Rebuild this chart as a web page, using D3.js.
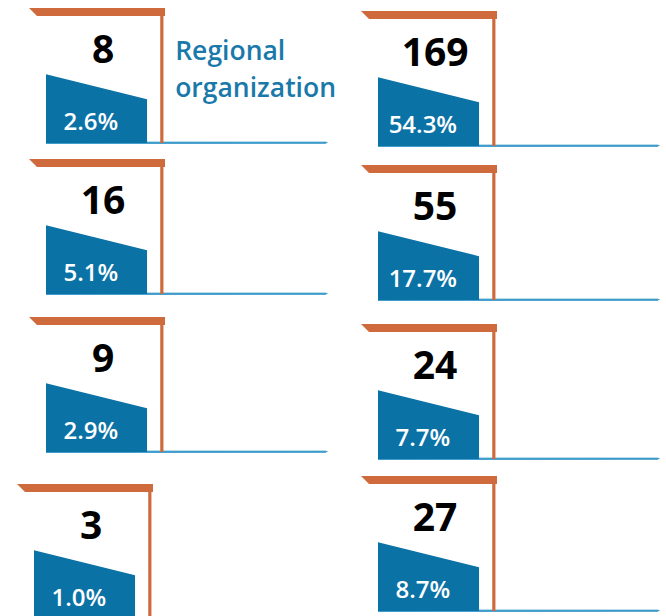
<!DOCTYPE html>
<html><head><meta charset="utf-8">
<script src="https://cdn.jsdelivr.net/npm/d3@7"></script>
<style>html,body{margin:0;padding:0;background:#fff;}svg{display:block;}</style>
</head><body>
<div id="chart"></div>
<script>
// ---- data ----
const categories = ["Regional organization", "", "", "", "", "", "", ""];
const counts = [8, 16, 9, 3, 169, 55, 24, 27];
const shares = [2.6, 5.1, 2.9, 1.0, 54.3, 17.7, 7.7, 8.7];
// ---- layout (panel origins: column, row) ----
const panelCol = [0, 0, 0, 0, 1, 1, 1, 1];
const panelRow = [0, 1, 2, 3, 0, 1, 2, 3];
const colX = [29, 361];
const rowY = [[8, 159, 317, 484], [11, 165, 324, 476]];
const panelDx = [0, 0, 0, -12, 0, 0, 0, 0];

const W = 666, H = 616;
const orange = "#CF6A3D", blue = "#0B72A6", lineBlue = "#3E9CCB", textBlue = "#1A79AA";

const svg = d3.select("#chart").append("svg").attr("width", W).attr("height", H);

const xCol = d3.scaleOrdinal().domain([0, 1]).range(colX);
// local panel scales: unit box -> pixel offsets
const px = d3.scaleLinear().domain([0, 1]).range([0, 136]);
const py = d3.scaleLinear().domain([0, 1]).range([0, 135]);

const data = counts.map((c, i) => ({
  cat: categories[i], count: c, share: shares[i],
  x0: xCol(panelCol[i]) + panelDx[i],
  y0: rowY[panelCol[i]][panelRow[i]]
}));

const g = svg.selectAll("g.panel").data(data).join("g")
  .attr("class", "panel")
  .attr("transform", d => `translate(${d.x0},${d.y0})`);

// blue base line
g.append("path")
  .attr("d", `M${px(0.125)},${py(0.993)} L${px(2.19)},${py(0.993)} L${px(2.2)},${py(1.0)} L${px(0.125)},${py(1.007)} Z`)
  .attr("fill", lineBlue);
g.append("rect")
  .attr("x", px(0.125)).attr("y", py(0.99))
  .attr("width", px(2.06)).attr("height", 2.2)
  .attr("fill", lineBlue);

// trapezoid
g.append("path")
  .attr("d", `M${px(0.125)},${py(0.49)} L${px(0.868)},${py(0.675)} L${px(0.868)},${py(1.0)} L${px(0.125)},${py(1.0)} Z`)
  .attr("fill", blue);

// orange top bar (slanted left)
g.append("path")
  .attr("d", `M0,0 L${px(1)},0 L${px(1)},8 L8,8 Z`)
  .attr("fill", orange);
// orange vertical line
g.append("rect")
  .attr("x", px(0.965)).attr("y", 0)
  .attr("width", 3.2).attr("height", py(1.0))
  .attr("fill", orange);

// count number
g.append("text")
  .attr("x", px(0.545)).attr("y", py(0.405))
  .attr("text-anchor", "middle")
  .attr("font-family", "'Open Sans', sans-serif")
  .attr("font-weight", 700).attr("font-size", 39)
  .attr("fill", "#000")
  .text(d => d.count);

// share label
g.append("text")
  .attr("x", px(0.455)).attr("y", py(0.905))
  .attr("text-anchor", "middle")
  .attr("font-family", "'Open Sans', sans-serif")
  .attr("font-weight", 600).attr("font-size", 24)
  .attr("fill", "#fff")
  .text(d => d.share.toFixed(1) + "%");

// category label (only those with a name)
g.filter(d => d.cat).append("text")
  .attr("x", px(1.075)).attr("y", py(0.385))
  .attr("font-family", "'Open Sans', sans-serif")
  .attr("font-weight", 600).attr("font-size", 26.5)
  .attr("fill", textBlue)
  .each(function(d) {
    const words = d.cat.split(" ");
    d3.select(this).selectAll("tspan").data(words).join("tspan")
      .attr("x", px(1.075))
      .attr("dy", (w, j) => j === 0 ? 0 : 37)
      .text(w => w);
  });
</script>
</body></html>
